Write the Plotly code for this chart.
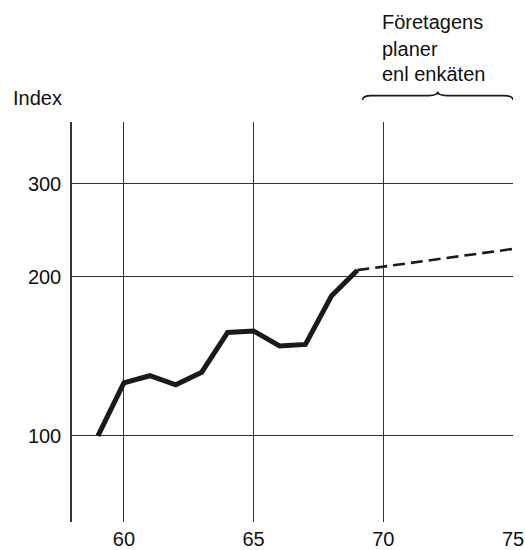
import plotly.graph_objects as go

# Data
years_actual = [59, 60, 61, 62, 63, 64, 65, 66, 67, 68, 69]
index_actual = [100, 126, 130, 125, 132, 157, 158, 148, 149, 184, 206]
years_plan = [69, 75]
index_plan = [206, 226]
x_ticks = [60, 65, 70, 75]
y_ticks = [100, 200, 300]
plan_label = ["Företagens", "planer", "enl enkäten"]

FONT = "Liberation Sans, Arial, Helvetica, sans-serif"
INK = "#1a1a1a"
FS = 20

fig = go.Figure()
fig.add_trace(go.Scatter(x=years_actual, y=index_actual, mode="lines",
                         line=dict(color=INK, width=5), hoverinfo="skip"))
fig.add_trace(go.Scatter(x=years_plan, y=index_plan, mode="lines",
                         line=dict(color=INK, width=2.6, dash="12px,6px"), hoverinfo="skip"))

fig.update_layout(
    width=525, height=550,
    margin=dict(l=72, r=12, t=122, b=28, autoexpand=False),
    paper_bgcolor="white", plot_bgcolor="white",
    showlegend=False,
    font=dict(family=FONT, size=FS, color="#111"),
    xaxis=dict(range=[58, 75], tickvals=x_ticks, ticktext=[str(v) for v in x_ticks],
               showgrid=True, gridcolor="#333", gridwidth=1.3, automargin=False,
               zeroline=False, showline=False, ticks="", ticklabelstandoff=3),
    yaxis=dict(type="log", range=[1.837, 2.5944], tickvals=y_ticks,
               ticktext=[str(v) for v in y_ticks], automargin=False,
               showgrid=True, gridcolor="#333", gridwidth=1.3,
               zeroline=False, showline=True, linecolor="#333", linewidth=1.5,
               ticks="", ticklabelstandoff=5),
)

fig.add_annotation(text="Index", xref="paper", yref="paper", x=0, xshift=-61,
                   y=1.06, xanchor="left", yanchor="middle", showarrow=False,
                   font=dict(size=FS))

line_y = [1.25, 1.183, 1.12]
for txt, yy in zip(plan_label, line_y):
    fig.add_annotation(text=txt, xref="x", yref="paper", x=70, y=yy, xshift=-3,
                       xanchor="left", yanchor="middle", showarrow=False,
                       font=dict(size=FS))

# curly brace over the planning period
x0, x1 = 69.2, 75.0
tip = (x0 + x1) / 2
d = 0.35
ye, ym, yt = 1.055, 1.066, 1.076
path = (f"M {x0},{ye} Q {x0},{ym} {x0+d},{ym} L {tip-d},{ym} Q {tip},{ym} {tip},{yt} "
        f"Q {tip},{ym} {tip+d},{ym} L {x1-d},{ym} Q {x1},{ym} {x1},{ye}")
fig.add_shape(type="path", path=path, xref="x", yref="paper",
              line=dict(color=INK, width=1.6))

fig.write_html("out.html", config={"displayModeBar": False},
               post_script="document.body.style.margin='0';document.body.style.overflow='hidden';")
